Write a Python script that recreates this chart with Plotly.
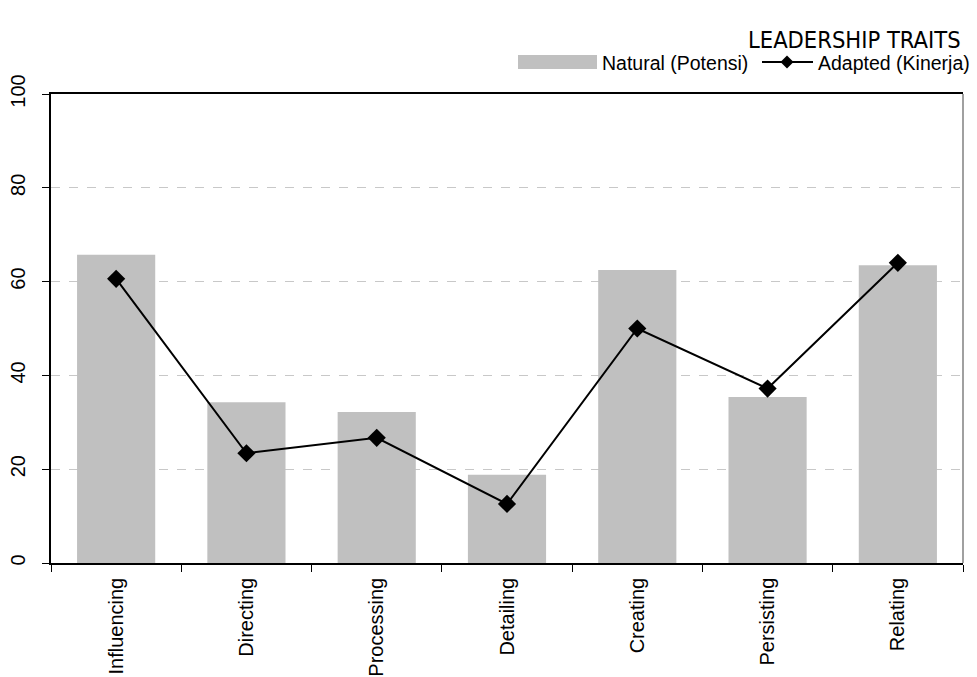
import plotly.graph_objects as go

# Leadership trait scores
traits = ["Influencing", "Directing", "Processing", "Detailing",
          "Creating", "Persisting", "Relating"]
natural = [65.7, 34.3, 32.2, 18.8, 62.5, 35.4, 63.5]
adapted = [60.6, 23.4, 26.7, 12.6, 50.0, 37.2, 64.0]
y_ticks = [0, 20, 40, 60, 80, 100]

BAR_GREY = "#C0C0C0"
FONT = "Liberation Sans, Arial, sans-serif"

fig = go.Figure()

fig.add_trace(go.Bar(
    x=traits, y=natural, name="Natural (Potensi)",
    marker=dict(color=BAR_GREY, line=dict(width=0)),
    width=0.6, showlegend=False,
))

fig.add_trace(go.Scatter(
    x=traits, y=adapted, name="Adapted (Kinerja)",
    mode="lines+markers",
    line=dict(color="black", width=2),
    marker=dict(symbol="diamond", size=14, color="black"),
    showlegend=False,
))

# plot area in pixels: x 51..963, y 94..563
W, H = 977, 677
L, R, T, B = 51, 14, 94, 114
pw, ph = W - L - R, H - T - B


def px(x):
    return (x - L) / pw


def py(y):
    return (H - B - y) / ph


shapes = [
    # right border of the plot area
    dict(type="line", xref="paper", yref="paper", x0=1, x1=1, y0=0, y1=1,
         line=dict(color="#808080", width=1.5)),
    # legend: bar swatch
    dict(type="rect", xref="paper", yref="paper",
         x0=px(518), x1=px(597), y0=py(69), y1=py(55),
         fillcolor=BAR_GREY, line=dict(width=0)),
    # legend: line with diamond
    dict(type="line", xref="paper", yref="paper",
         x0=px(762), x1=px(813), y0=py(62), y1=py(62),
         line=dict(color="black", width=2)),
]
cx, cy, d = 787, 62, 6.5
shapes.append(dict(
    type="path", xref="paper", yref="paper",
    path=(f"M {px(cx - d)} {py(cy)} L {px(cx)} {py(cy - d)} "
          f"L {px(cx + d)} {py(cy)} L {px(cx)} {py(cy + d)} Z"),
    fillcolor="black", line=dict(width=0),
))

annotations = [
    dict(text="LEADERSHIP TRAITS", xref="paper", yref="paper",
         x=px(963), y=py(40), xanchor="right", yanchor="middle",
         showarrow=False,
         font=dict(family="DejaVu Sans Condensed, Liberation Sans Narrow, sans-serif",
                   size=23.5, color="black")),
    dict(text="Natural (Potensi)", xref="paper", yref="paper",
         x=px(600), y=py(63), xanchor="left", yanchor="middle",
         showarrow=False, font=dict(family=FONT, size=19.5, color="black")),
    dict(text="Adapted (Kinerja)", xref="paper", yref="paper",
         x=px(816), y=py(63), xanchor="left", yanchor="middle",
         showarrow=False, font=dict(family=FONT, size=19.5, color="black")),
]

fig.update_layout(
    width=W, height=H,
    margin=dict(l=L, r=R, t=T, b=B, pad=0),
    paper_bgcolor="white", plot_bgcolor="white",
    font=dict(family=FONT, size=20, color="black"),
    bargap=0.4,
    shapes=shapes,
    annotations=annotations,
    showlegend=False,
)

fig.update_xaxes(
    type="category", automargin=False,
    showline=True, linecolor="black", linewidth=1.5,
    mirror=True,
    ticks="outside", tickson="boundaries", ticklen=7,
    tickcolor="black", tickwidth=1,
    tickangle=-90, ticklabelstandoff=5,
    tickfont=dict(family=FONT, size=20, color="black"),
    showgrid=False, zeroline=False,
)

fig.update_yaxes(
    range=[0, 100], automargin=False,
    tickvals=y_ticks,
    ticktext=[str(v) for v in y_ticks],
    showline=True, linecolor="black", linewidth=1.5,
    ticks="outside", ticklen=7, tickcolor="black", tickwidth=1,
    tickangle=-90, ticklabelstandoff=9,
    tickfont=dict(family=FONT, size=20, color="black"),
    showgrid=True, gridcolor="#C8C8C8", griddash="dash", gridwidth=1,
    zeroline=False,
)

fig.write_html("out.html")
